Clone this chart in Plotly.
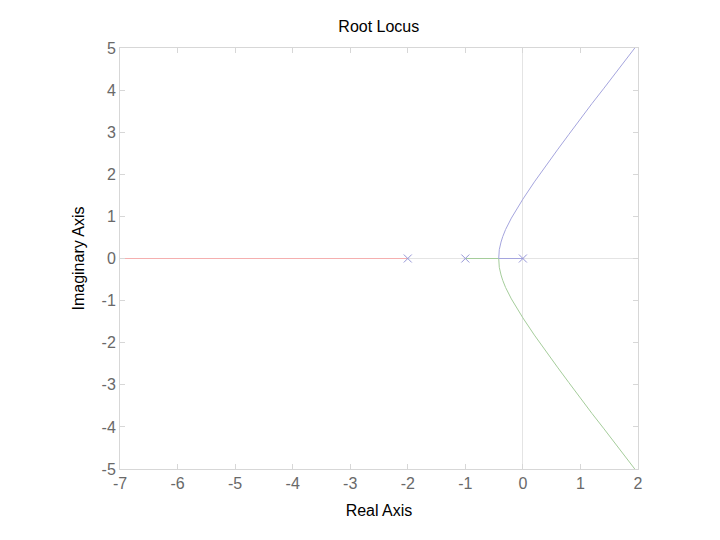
import plotly.graph_objects as go

# Pole locations (open loop)
pole_re = [0, -1, -2]
pole_im = [0, 0, 0]

# Branch 1 (blue): from pole at 0 toward breakaway, then up to upper-right
blue_re = [0.0, -0.2, -0.42, -0.41, -0.40, -0.38, -0.35, -0.30, -0.2, -0.1, 0.0, 0.2, 0.4, 0.6, 0.8, 1.0, 1.2, 1.4, 1.6, 1.8, 2.0]
blue_im = [0.0, 0.0, 0.0, 0.21, 0.28, 0.39, 0.52, 0.69, 0.96, 1.20, 1.41, 1.82, 2.21, 2.58, 2.95, 3.32, 3.68, 4.03, 4.39, 4.75, 5.10]

# Branch 2 (green): from pole at -1 toward breakaway, then down to lower-right
green_re = [-1.0, -0.7, -0.42, -0.41, -0.40, -0.38, -0.35, -0.30, -0.2, -0.1, 0.0, 0.2, 0.4, 0.6, 0.8, 1.0, 1.2, 1.4, 1.6, 1.8, 2.0]
green_im = [0.0, 0.0, 0.0, -0.21, -0.28, -0.39, -0.52, -0.69, -0.96, -1.20, -1.41, -1.82, -2.21, -2.58, -2.95, -3.32, -3.68, -4.03, -4.39, -4.75, -5.10]

# Branch 3 (red): from pole at -2 along negative real axis
red_re = [-2.0, -4.0, -6.0, -8.0]
red_im = [0.0, 0.0, 0.0, 0.0]

# Tick labels (hyphen minus as in the reference)
x_ticks = [-7, -6, -5, -4, -3, -2, -1, 0, 1, 2]
x_labels = ["-7", "-6", "-5", "-4", "-3", "-2", "-1", "0", "1", "2"]
y_ticks = [-5, -4, -3, -2, -1, 0, 1, 2, 3, 4, 5]
y_labels = ["-5", "-4", "-3", "-2", "-1", "0", "1", "2", "3", "4", "5"]

fig = go.Figure()
fig.add_trace(go.Scatter(x=red_re, y=red_im, mode="lines",
                         line=dict(color="rgb(245,175,175)", width=1), showlegend=False))
fig.add_trace(go.Scatter(x=green_re, y=green_im, mode="lines",
                         line=dict(color="rgb(165,205,155)", width=1), showlegend=False))
fig.add_trace(go.Scatter(x=blue_re, y=blue_im, mode="lines",
                         line=dict(color="rgb(165,165,222)", width=1), showlegend=False))
fig.add_trace(go.Scatter(x=pole_re, y=pole_im, mode="markers",
                         marker=dict(symbol="x-thin", size=8, line=dict(color="rgb(150,150,215)", width=1)),
                         showlegend=False))

axis_common = dict(
    showgrid=False,
    zeroline=True, zerolinecolor="rgb(228,228,228)", zerolinewidth=1,
    showline=True, linecolor="rgb(215,215,215)", linewidth=1, mirror="ticks",
    ticks="inside", ticklen=5, tickcolor="rgb(215,215,215)",
    tickfont=dict(family="Liberation Sans, Arial", size=16, color="rgb(105,105,105)"),
    title_font=dict(family="Liberation Sans, Arial", size=16, color="black"),
)

fig.update_layout(
    width=720, height=540,
    margin=dict(l=112, r=90, t=40, b=79, autoexpand=False),
    paper_bgcolor="white", plot_bgcolor="white",
    title=dict(text="Root Locus", x=0.515, xanchor="center", y=0.976, yanchor="top",
               font=dict(family="Liberation Sans, Arial", size=16, color="black")),
    xaxis=dict(range=[-7, 2], tickvals=x_ticks, ticktext=x_labels,
               title=dict(text="Real Axis", standoff=13), **axis_common),
    yaxis=dict(range=[-5, 5], tickvals=y_ticks, ticktext=y_labels,
               title=dict(text="Imaginary Axis", standoff=12), **axis_common),
)

fig.write_html("out.html")
